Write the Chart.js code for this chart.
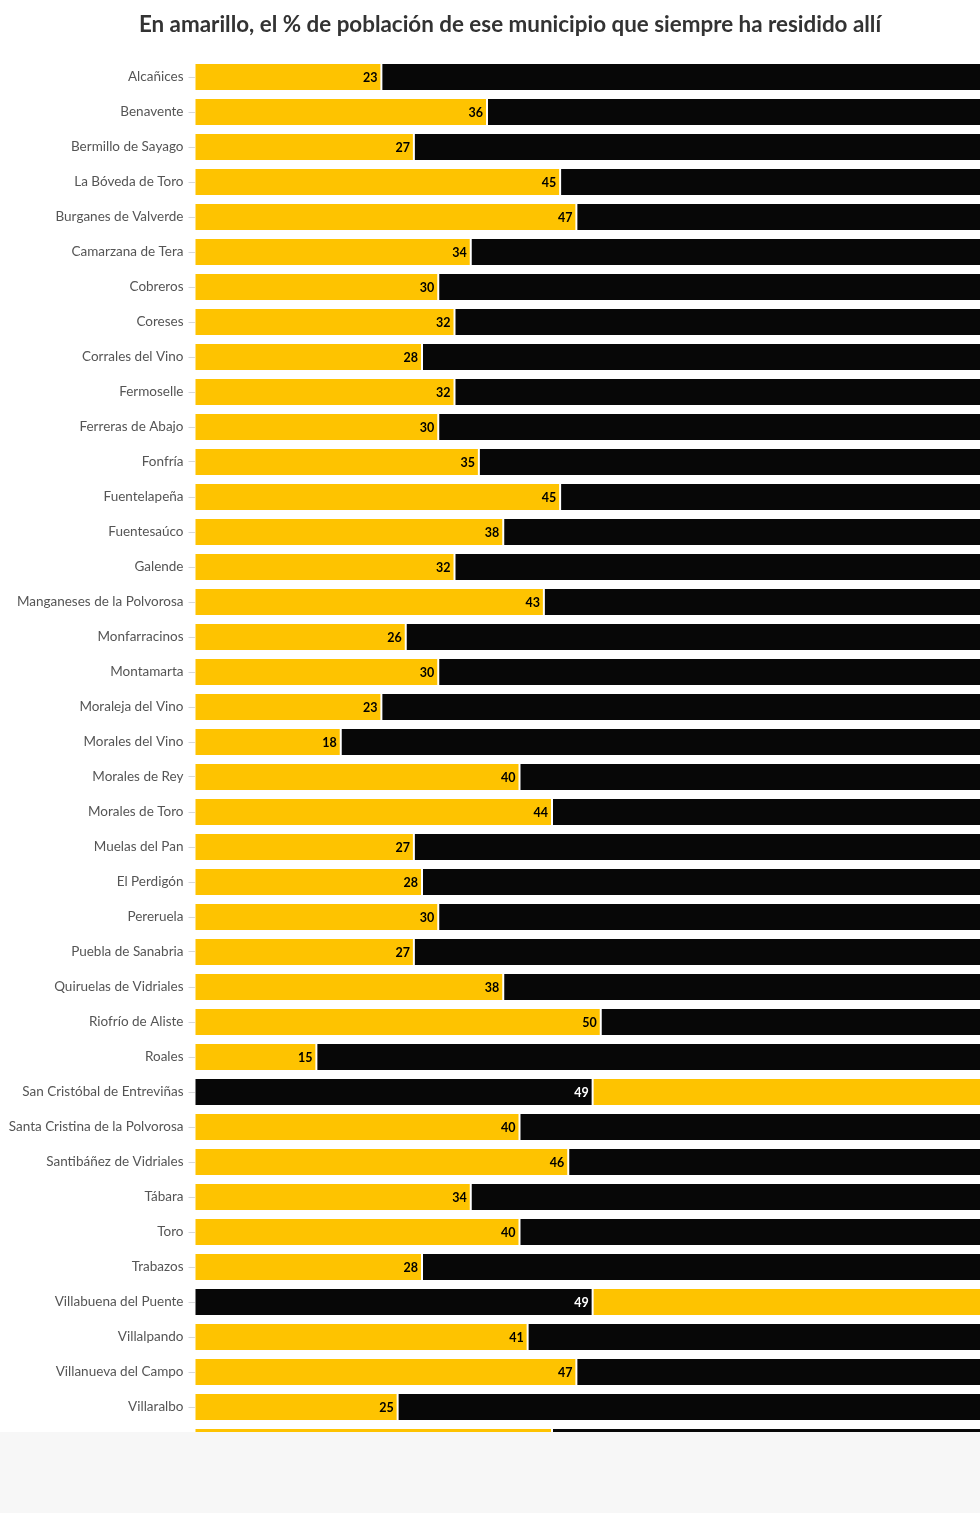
<!DOCTYPE html>
<html>
<head>
<meta charset="utf-8">
<script src="https://cdn.jsdelivr.net/npm/chart.js@4/dist/chart.umd.min.js"></script>
<style>
  html, body { margin: 0; padding: 0; background: #fff; overflow: hidden; }
  #wrap { position: relative; width: 980px; height: 1432px; overflow: hidden; background: #fff; }
  #titulo { position: absolute; left: 0; top: 10px; width: 1020px; text-align: center; font-family: Lato, "Open Sans", sans-serif; font-weight: bold; font-size: 22.4px; line-height: 28px; color: #333333; white-space: nowrap; }
  #footer { width: 980px; height: 81px; background: #f7f7f7; }
  canvas { display: block; position: absolute; left: 0; top: 0; }
</style>
</head>
<body>
<div id="wrap"><canvas id="c" width="1020" height="1462" style="width:1020px;height:1462px"></canvas><div id="titulo"></div></div>
<div id="footer"></div>
<script>
const titulo = 'En amarillo, el % de población de ese municipio que siempre ha residido allí';

const municipios = [
  'Alcañices', 'Benavente', 'Bermillo de Sayago', 'La Bóveda de Toro', 'Burganes de Valverde',
  'Camarzana de Tera', 'Cobreros', 'Coreses', 'Corrales del Vino', 'Fermoselle',
  'Ferreras de Abajo', 'Fonfría', 'Fuentelapeña', 'Fuentesaúco', 'Galende',
  'Manganeses de la Polvorosa', 'Monfarracinos', 'Montamarta', 'Moraleja del Vino', 'Morales del Vino',
  'Morales de Rey', 'Morales de Toro', 'Muelas del Pan', 'El Perdigón', 'Pereruela',
  'Puebla de Sanabria', 'Quiruelas de Vidriales', 'Riofrío de Aliste', 'Roales', 'San Cristóbal de Entreviñas',
  'Santa Cristina de la Polvorosa', 'Santibáñez de Vidriales', 'Tábara', 'Toro', 'Trabazos',
  'Villabuena del Puente', 'Villalpando', 'Villanueva del Campo', 'Villaralbo', 'Zamora'
];

// value shown on the first segment
const primerTramo = [
  23, 36, 27, 45, 47,
  34, 30, 32, 28, 32,
  30, 35, 45, 38, 32,
  43, 26, 30, 23, 18,
  40, 44, 27, 28, 30,
  27, 38, 50, 15, 49,
  40, 46, 34, 40, 28,
  49, 41, 47, 25, 44
];

// rows where the first segment is drawn in black (colours swapped)
const invertidos = ['San Cristóbal de Entreviñas', 'Villabuena del Puente'];

const AMARILLO = '#fec300';
const NEGRO = '#070707';

document.getElementById('titulo').textContent = titulo;

const resto = primerTramo.map(v => 100 - v);
const esInv = municipios.map(m => invertidos.includes(m));
const color1 = esInv.map(i => i ? NEGRO : AMARILLO);
const color2 = esInv.map(i => i ? AMARILLO : NEGRO);

const etiquetas = {
  id: 'etiquetas',
  afterDatasetsDraw(chart) {
    const ctx = chart.ctx;
    const meta = chart.getDatasetMeta(0);
    ctx.save();
    ctx.font = 'bold 12.5px Lato, "Open Sans", sans-serif';
    ctx.textAlign = 'right';
    ctx.textBaseline = 'middle';
    meta.data.forEach((bar, i) => {
      ctx.fillStyle = esInv[i] ? '#ffffff' : '#000000';
      ctx.fillText(String(primerTramo[i]), bar.x - 4, bar.y + 0.5);
    });
    ctx.restore();
  }
};

new Chart(document.getElementById('c'), {
  type: 'bar',
  data: {
    labels: municipios,
    datasets: [
      { data: primerTramo, backgroundColor: color1, borderColor: 'rgba(255,255,255,0.55)', borderWidth: 1, borderSkipped: false, barPercentage: 1, categoryPercentage: 0.8 },
      { data: resto, backgroundColor: color2, borderColor: 'rgba(255,255,255,0.55)', borderWidth: 1, borderSkipped: false, barPercentage: 1, categoryPercentage: 0.8 }
    ]
  },
  options: {
    indexAxis: 'y',
    responsive: false,
    animation: false,
    layout: { padding: { left: 0, right: 13, top: 59.5, bottom: 2.5 } },
    plugins: {
      legend: { display: false },
      tooltip: { enabled: false },
      title: { display: false }
    },
    scales: {
      x: { stacked: true, min: 0, max: 100, display: false },
      y: {
        stacked: true,
        border: { display: false },
        grid: { offset: false, drawOnChartArea: false, drawTicks: true, tickLength: 6, color: '#d8d8d8' },
        ticks: { color: '#555555', padding: 5, font: { family: 'Lato, "Open Sans", sans-serif', size: 13.5 } },
        afterFit(scale) { scale.width = 194.5; scale.paddingTop = 0; scale.paddingBottom = 0; }
      }
    }
  },
  plugins: [etiquetas]
});
</script>
</body>
</html>
